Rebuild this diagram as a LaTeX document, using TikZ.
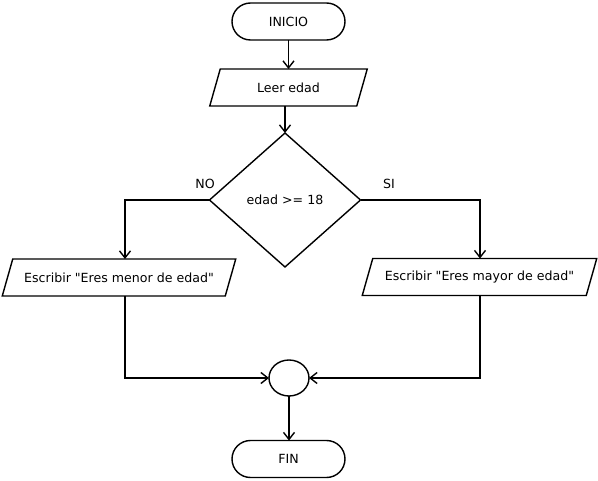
\documentclass[tikz,border=0pt]{standalone}
\usepackage{fontspec}
\setmainfont{DejaVu Sans}[Ligatures=TeXOff]
\usetikzlibrary{arrows.meta,shapes.geometric}

\tikzset{
  flow/.style={line width=1.4pt, -{Straight Barb[length=7pt,width=11pt]}},
  edge/.style={line width=1.4pt, line join=miter},
  txt/.style={font=\fontsize{12.6}{15}\selectfont, inner sep=0pt, outer sep=0pt},
  terminal/.style={txt, draw, line width=1.4pt, rectangle, rounded corners=18.5pt,
    minimum width=113pt, minimum height=37pt},
  decision/.style={txt, draw, line width=1.4pt, diamond, aspect=1,
    minimum width=151pt, minimum height=134pt},
  joint/.style={draw, line width=1.4pt, ellipse, inner sep=0pt, outer sep=0pt,
    minimum width=40pt, minimum height=36pt},
  tag/.style={txt}
}

% input/output box: #1 name, #2 centre, #3 half length of an edge,
% #4 horizontal offset of the connector ports, #5 text
\newcommand{\iobox}[5]{%
  \node[txt] (#1) at #2 {#5};
  \draw[edge]
    ([shift={(-#3+5.25,-18.5)}]#1.center) -- ([shift={(#3+5.25,-18.5)}]#1.center)
    -- ([shift={(#3-5.25,18.5)}]#1.center) -- ([shift={(-#3-5.25,18.5)}]#1.center)
    -- cycle;
  \coordinate (#1-n) at ([shift={(#4,-18.5)}]#1.center);
  \coordinate (#1-s) at ([shift={(#4,18.5)}]#1.center);
}

\begin{document}
\begin{tikzpicture}[x=1pt,y=-1pt]
  \useasboundingbox (0,0) rectangle (598,481);

  \node[terminal] (inicio) at (288.5,21.5) {INICIO};
  \iobox{leer}{(288.5,87.5)}{73.5}{0}{Leer edad}
  \node[decision] (dec) at (285,200) {edad >= 18};
  \iobox{menor}{(119,277.5)}{111.5}{6}{Escribir "Eres menor de edad"}
  \iobox{mayor}{(479.5,277)}{112}{0.5}{Escribir "Eres mayor de edad"}
  \node[joint] (join) at (289,378) {};
  \node[terminal] (fin) at (288.5,459) {FIN};

  \node[tag] (no) at (205,184) {NO};
  \node[tag] (si) at (389,184) {SI};

  \draw[flow] (inicio.south) -- (leer-n);
  \draw[flow] (leer-s -| dec.north) -- (dec.north);
  \draw[flow] (dec.west) -| (menor-n);
  \draw[flow] (dec.east) -| (mayor-n);
  \draw[flow] (menor-s) |- (join.west);
  \draw[flow] (mayor-s) |- (join.east);
  \draw[flow] (join.south) -- (join.south |- fin.north);
\end{tikzpicture}
\end{document}
